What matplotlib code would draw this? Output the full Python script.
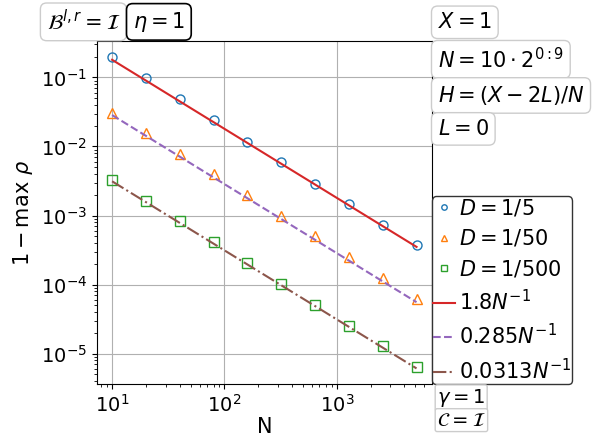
import numpy as np
import matplotlib
matplotlib.use('Agg')
import matplotlib.pyplot as plt

plt.rcParams['font.size'] = 15
plt.rcParams['xtick.labelsize'] = 14
plt.rcParams['ytick.labelsize'] = 14
plt.rcParams['mathtext.fontset'] = 'dejavusans'

# data
N = [10, 20, 40, 80, 160, 320, 640, 1280, 2560, 5120]
labels = ['$D=1/5$', '$D=1/50$', '$D=1/500$']
err_d5 = [0.2, 0.098, 0.048, 0.024, 0.0118, 0.0059, 0.0029, 0.00146, 0.00073, 0.00037]
err_d50 = [0.031, 0.0158, 0.0079, 0.0040, 0.0020, 0.00099, 0.00050, 0.00025, 0.000126, 6.2e-5]
err_d500 = [0.0033, 0.00165, 0.00082, 0.00041, 0.000205, 0.000101, 5.1e-5, 2.55e-5, 1.27e-5, 6.4e-6]
fit_coef = [1.8, 0.285, 0.0313]
fit_labels = ['$1.8N^{-1}$', '$0.285N^{-1}$', '$0.0313N^{-1}$']

fig = plt.figure(figsize=(5.98, 4.46), dpi=100)
ax = fig.add_axes([0.162, 0.139, 0.56, 0.769])

Narr = np.array(N, dtype=float)
ax.loglog(N, err_d5, 'o', color='C0', mfc='none', ms=6.5, label=labels[0])
ax.loglog(N, err_d50, '^', color='C1', mfc='none', ms=6.5, label=labels[1])
ax.loglog(N, err_d500, 's', color='C2', mfc='none', ms=6.5, label=labels[2])
ax.loglog(N, fit_coef[0] / Narr, '-', color='C3', label=fit_labels[0])
ax.loglog(N, fit_coef[1] / Narr, '--', color='C4', label=fit_labels[1])
ax.loglog(N, fit_coef[2] / Narr, '-.', color='C5', label=fit_labels[2])

ax.grid(True, which='major')
ax.set_xlabel('N', labelpad=1)
ax.set_ylabel(r'$1-\max\ \rho$')

ax.legend(loc='lower left', bbox_to_anchor=(1.0, 0.0), borderaxespad=0,
          handlelength=1.05, handletextpad=0.2, markerscale=0.6,
          labelspacing=0.45, borderpad=0.05, framealpha=1, edgecolor='#333333')

grey = dict(boxstyle='round,pad=0.3', fc='white', ec='#cccccc')
black = dict(boxstyle='round,pad=0.3', fc='white', ec='black', lw=1.2)

fig.text(0.078, 0.951, r'$\mathcal{B}^{l,r}=\mathcal{I}$', bbox=grey, va='center')
fig.text(0.222, 0.951, r'$\eta=1$', bbox=black, va='center')

fig.text(0.732, 0.950, '$X=1$', bbox=grey, va='center')
fig.text(0.732, 0.867, r'$N=10\cdot 2^{0:9}$', bbox=grey, va='center')
fig.text(0.732, 0.786, '$H=(X-2L)/N$', bbox=grey, va='center')
fig.text(0.732, 0.711, '$L=0$', bbox=grey, va='center')

small = dict(boxstyle='round,pad=0.1', fc='white', ec='#cccccc')
fig.text(0.731, 0.108, r'$\gamma=1$', bbox=small, va='center', fontsize=14)
fig.text(0.731, 0.058, r'$\mathcal{C}=\mathcal{I}$', bbox=small, va='center', fontsize=14)

fig.savefig('out.png', dpi=100)
